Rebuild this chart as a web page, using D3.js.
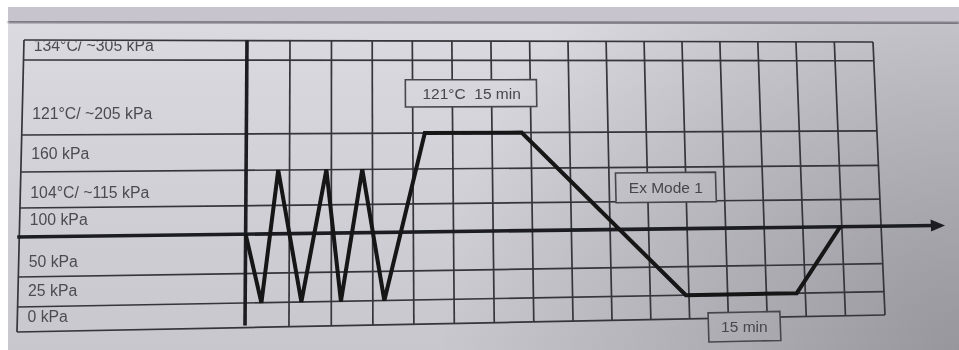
<!DOCTYPE html>
<html><head><meta charset="utf-8">
<script src="https://cdn.jsdelivr.net/npm/d3@7"></script>
<style>html,body{margin:0;padding:0;background:#fff;overflow:hidden}</style>
</head><body>
<script>
// ---------- DATA ----------
const rowLabels = ["0 kPa", "25 kPa", "50 kPa", "100 kPa", "104°C/ ~115 kPa", "160 kPa", "121°C/ ~205 kPa", "134°C/ ~305 kPa"]; // bottom to top
const columnCount = 16;                      // time grid columns right of the axis
const profileCols   = [0, 0.37, 0.74, 1.29, 1.88, 2.23, 2.75, 3.28, 4.3, 6.76, 10.92, 13.78, 14.96];
const profileLevels = [3, 1,    5,    1,    5,    1,    5,    1,    6,   6,    1,     1,     3];
const axisLevel = 3;
const boxTexts = ["121°C  15 min", "Ex Mode 1", "15 min"];

// ---------- LAYOUT ----------
const W = 959, H = 350;
const gridLeft = 24, axisX = 247, firstColW = 43, gridRight = 873;
const gridBottom = 332;
const rowHeights = [25, 30, 40, 29, 36, 37, 75, 20];     // px, bottom to top
const labelOffsets = [15, 19, 30, 17, 26, 24, 59, 11];   // baseline below row top
const labelX = 34;
const arrowTipX = 936, axisStartX = 22;
const boxPos = [
  {c0: 3.82, c1: 7.16, l0: 6.36, l1: 6.733},
  {c0: 9.17, c1: 11.78, l0: 3.97, l1: 4.84},
  {c0: 11.48, c1: 13.33, l0: -0.99, l1: 0.24}
];

const levelRange = [gridBottom];
rowHeights.forEach(h => levelRange.push(levelRange[levelRange.length - 1] - h));
const y = d3.scaleLinear().domain(d3.range(rowHeights.length + 1)).range(levelRange);
const x = d3.scaleLinear().domain([0, 1, columnCount]).range([axisX, axisX + firstColW, gridRight]);
const gridTop = y(rowHeights.length);
const col1 = x(1);

// photo perspective (flat -> picture)
function warp(px, py) {
  const tx = (px - gridLeft) / (gridRight - gridLeft);
  const ty = (py - gridTop) / (gridBottom - gridTop);
  const s = -7 + 19 * tx;
  const hump = (px > col1 && px < gridRight) ? 2.25e-7 * (px - col1) * Math.pow(gridRight - px, 2) : 0;
  const yTop = gridTop + 2 * tx;
  const k = 1 - 0.065 * tx;
  return [px + hump + ty * s, yTop + (py - gridTop) * k];
}
const seg = (x0, y0, x1, y1) => { const a = warp(x0, y0), b = warp(x1, y1); return `M${a[0]},${a[1]}L${b[0]},${b[1]}`; };

const svg = d3.select("body").append("svg").attr("width", W).attr("height", H);
const defs = svg.append("defs");
const lg = defs.append("linearGradient").attr("id", "paper").attr("gradientUnits", "userSpaceOnUse")
  .attr("x1", 0).attr("y1", 0).attr("x2", 0).attr("y2", H);
lg.append("stop").attr("offset", 0).attr("stop-color", "#dcdbe1");
lg.append("stop").attr("offset", 1).attr("stop-color", "#c8c7cd");
const rg = defs.append("radialGradient").attr("id", "shade").attr("gradientUnits", "userSpaceOnUse")
  .attr("cx", W).attr("cy", H).attr("r", 520);
rg.append("stop").attr("offset", 0).attr("stop-color", "#86868c").attr("stop-opacity", 0.75);
rg.append("stop").attr("offset", 1).attr("stop-color", "#86868c").attr("stop-opacity", 0);
const blur = defs.append("filter").attr("id", "soft").attr("x", "-5%").attr("y", "-5%").attr("width", "110%").attr("height", "110%");
blur.append("feGaussianBlur").attr("stdDeviation", 0.55);
const blur2 = defs.append("filter").attr("id", "soft2");
blur2.append("feGaussianBlur").attr("stdDeviation", 1.2);
defs.append("clipPath").attr("id", "gridclip").append("rect")
  .attr("x", 0).attr("y", gridTop + 1.5).attr("width", W).attr("height", H);

// background
svg.append("rect").attr("width", W).attr("height", H).attr("fill", "#ffffff");
svg.append("rect").attr("x", 8).attr("y", 7).attr("width", W - 8).attr("height", H - 7).attr("fill", "url(#paper)");
svg.append("rect").attr("x", 8).attr("y", 7).attr("width", W - 8).attr("height", H - 7).attr("fill", "url(#shade)");
svg.append("rect").attr("x", 8).attr("y", 7).attr("width", W - 8).attr("height", 14).attr("fill", "#c8c4cd");
svg.append("path").attr("d", "M8,21.5L959,23.5").attr("stroke", "#6a6870").attr("stroke-width", 3).attr("filter", "url(#soft2)");

const g = svg.append("g").attr("filter", "url(#soft)");
const ink = "#35353a";

// horizontal grid lines
d3.range(rowHeights.length + 1).filter(l => l !== axisLevel).forEach(l => {
  g.append("path").attr("d", seg(gridLeft, y(l), gridRight, y(l)))
    .attr("stroke", ink).attr("stroke-width", 1.7).attr("fill", "none");
});
// vertical grid lines
g.append("path").attr("d", seg(gridLeft, gridTop, gridLeft, gridBottom)).attr("stroke", ink).attr("stroke-width", 1.7);
d3.range(1, columnCount + 1).forEach(c => {
  g.append("path").attr("d", seg(x(c), gridTop, x(c), gridBottom))
    .attr("stroke", ink).attr("stroke-width", 1.7);
});

// y-axis labels
const labelG = g.append("g").attr("clip-path", "url(#gridclip)");
rowLabels.forEach((t, i) => {
  const p = warp(labelX, y(i + 1) + labelOffsets[i]);
  labelG.append("text").attr("x", p[0]).attr("y", p[1]).text(t)
    .attr("font-family", "'Liberation Sans', Arial, sans-serif").attr("font-size", 15.8)
    .attr("fill", "#4c4c51");
});

// annotation boxes
boxTexts.forEach((t, i) => {
  const b = boxPos[i];
  const corners = [warp(x(b.c0), y(b.l1)), warp(x(b.c1), y(b.l1)), warp(x(b.c1), y(b.l0)), warp(x(b.c0), y(b.l0))];
  const d = "M" + corners.map(p => p.join(",")).join("L") + "Z";
  g.append("path").attr("d", d).attr("fill", "url(#paper)").attr("stroke", "none");
  g.append("path").attr("d", d).attr("fill", "url(#shade)").attr("stroke", "#46464b").attr("stroke-width", 1.6);
  const c = warp((x(b.c0) + x(b.c1)) / 2, (y(b.l0) + y(b.l1)) / 2);
  g.append("text").attr("x", c[0]).attr("y", c[1] + 5.5).attr("text-anchor", "middle")
    .style("white-space", "pre").text(t)
    .attr("font-family", "'Liberation Sans', Arial, sans-serif").attr("font-size", 15.5)
    .attr("fill", "#46464b");
});

// thick y axis
g.append("path").attr("d", seg(axisX, gridTop, axisX, gridBottom - 2))
  .attr("stroke", "#1c1c20").attr("stroke-width", 3.6);
// thick time axis with arrow
g.append("path").attr("d", seg(axisStartX, y(axisLevel), arrowTipX - 10, y(axisLevel)))
  .attr("stroke", "#1a1e22").attr("stroke-width", 3.6).attr("fill", "none");
const tip = warp(arrowTipX, y(axisLevel)), b1 = warp(arrowTipX - 14, y(axisLevel) - 6.5), b2 = warp(arrowTipX - 14, y(axisLevel) + 6.5);
g.append("path").attr("d", `M${tip}L${b1}L${b2}Z`).attr("fill", "#1a1e22");

// profile line
const pts = profileCols.map((c, i) => warp(x(c), y(profileLevels[i])));
g.append("path").attr("d", d3.line()(pts))
  .attr("fill", "none").attr("stroke", "#141416").attr("stroke-width", 4)
  .attr("stroke-linejoin", "miter").attr("stroke-miterlimit", 3);
</script>
</body></html>
